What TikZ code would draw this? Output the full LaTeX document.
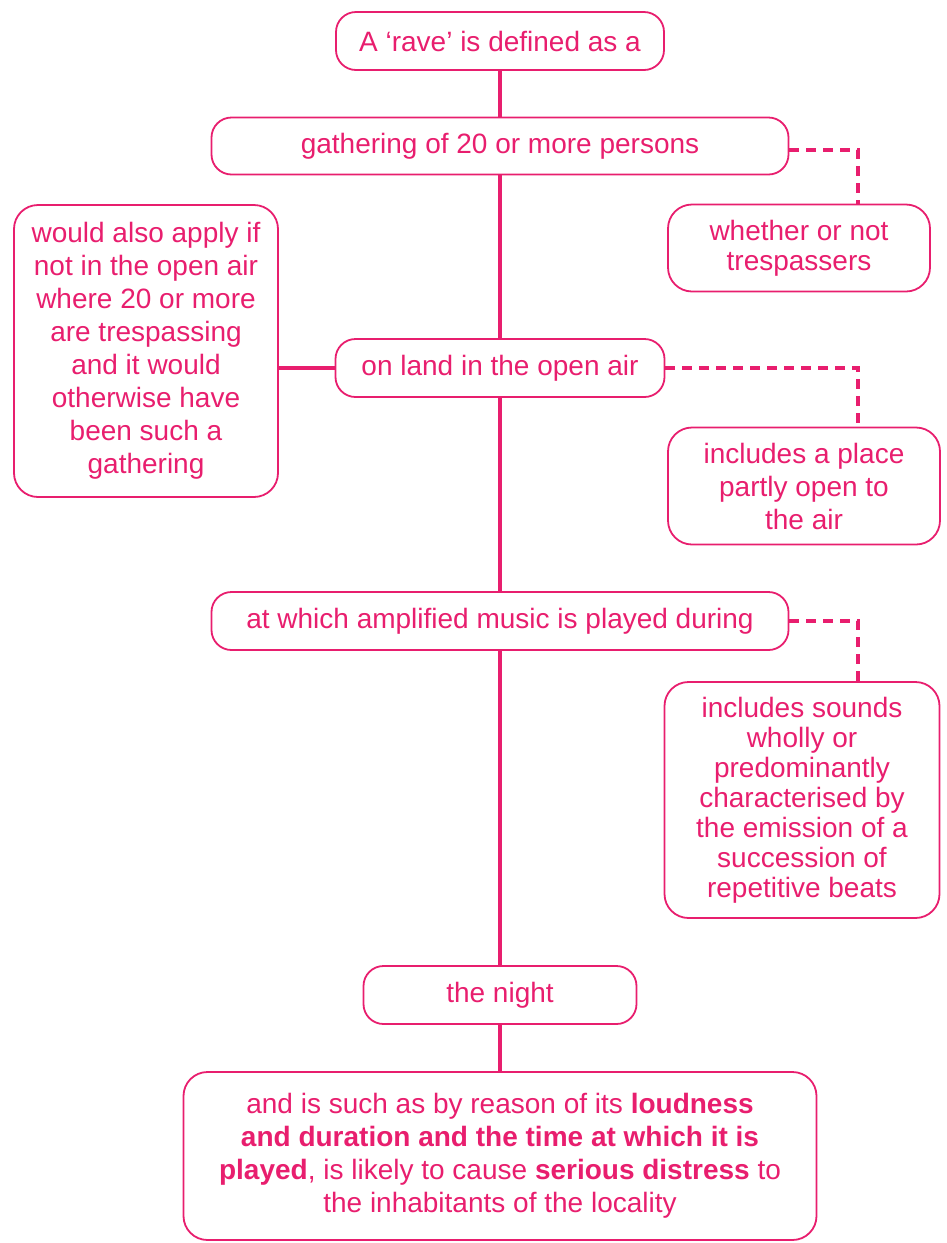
\documentclass[tikz,border=0pt]{standalone}
\usepackage{fontspec}
\setmainfont{Liberation Sans}
\usetikzlibrary{positioning, calc}
\definecolor{ravepink}{RGB}{232,30,110}
\tikzset{
    stagebox/.style={rectangle, rounded corners=10pt, draw=ravepink, line width=0.9pt, text=ravepink, align=center, inner sep=0pt, font=\fontsize{14}{16.5}\selectfont},
    notebox/.style={stagebox, rounded corners=12pt},
    trunk/.style={draw=ravepink, line width=1.6pt},
    aside/.style={draw=ravepink, line width=1.6pt, dash pattern=on 5pt off 3.5pt},
}

\begin{document}
\begin{tikzpicture}[x=0.5pt, y=-0.5pt]
            \useasboundingbox (0,0) rectangle (947,1243);
            \node[stagebox, minimum width=164pt, minimum height=29pt] (rave) at (500,41) {A `rave' is defined as a};
            \node[stagebox, minimum width=288.5pt, minimum height=28.5pt] (gather) at (500,146) {gathering of 20 or more persons};
            \node[notebox, minimum width=131pt, minimum height=43.5pt, font=\fontsize{14}{15}\selectfont] (trespass) at (799,248) {whether or not\\trespassers};
            \node[notebox, minimum width=132pt, minimum height=146pt] (also) at (146,351) {would also apply if\\not in the open air\\where 20 or more\\are trespassing\\and it would\\otherwise have\\been such a\\gathering};
            \node[stagebox, minimum width=164.5pt, minimum height=29pt] (land) at (500,368) {on land in the open air};
            \node[notebox, minimum width=136pt, minimum height=58.5pt] (place) at (804,486) {includes a place\\partly open to\\the air};
            \node[stagebox, minimum width=288.5pt, minimum height=29pt] (music) at (500,621) {at which amplified music is played during};
            \node[notebox, minimum width=137.5pt, minimum height=118pt, font=\fontsize{14}{15}\selectfont] (sounds) at (802,800) {includes sounds\\wholly or\\predominantly\\characterised by\\the emission of a\\succession of\\repetitive beats};
            \node[stagebox, minimum width=136.5pt, minimum height=29pt] (night) at (500,995) {the night};
            \node[notebox, minimum width=316.5pt, minimum height=84pt] (distress) at (500,1156) {\rule{0pt}{6pt}and is such as by reason of its \textbf{loudness}\\\textbf{and duration and the time at which it is}\\\textbf{played}, is likely to cause \textbf{serious distress} to\\the inhabitants of the locality};
            \coordinate (kink) at (858,0);
            \draw[trunk] (rave) -- (gather) -- (land) -- (music) -- (night) -- (distress);
            \draw[trunk] (land.west -| also.east) -- (land.west);
            \draw[aside] ([yshift=-2pt]gather.east) -| (trespass.north -| kink);
            \draw[aside] (land.east) -| (place.north -| kink);
            \draw[aside] (music.east) -| (sounds.north -| kink);
        \end{tikzpicture}
\end{document}
